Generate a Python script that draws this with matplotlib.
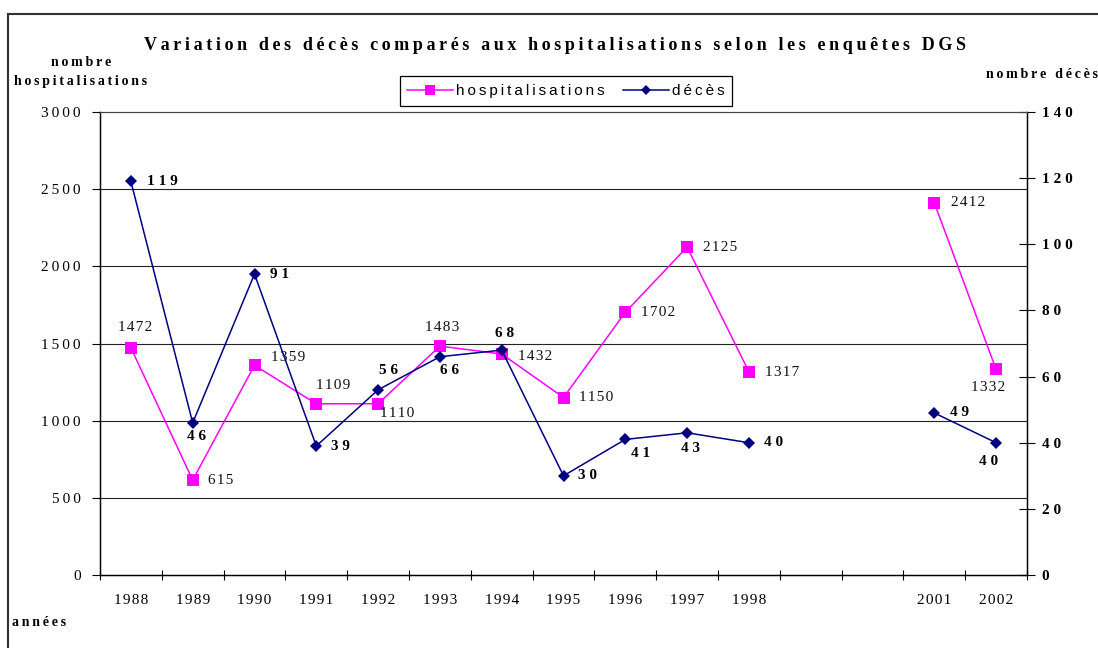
"""Variation des décès comparés aux hospitalisations (enquêtes DGS)."""

import numpy as np
import matplotlib
matplotlib.use('Agg')
import matplotlib.pyplot as plt
from matplotlib.lines import Line2D

annees = ['1988', '1989', '1990', '1991', '1992', '1993', '1994', '1995',
          '1996', '1997', '1998', '', '', '2001', '2002']
hospitalisations = [1472, 615, 1359, 1109, 1110, 1483, 1432, 1150,
                    1702, 2125, 1317, np.nan, np.nan, 2412, 1332]
deces = [119, 46, 91, 39, 56, 66, 68, 30, 41, 43, 40, np.nan, np.nan, 49, 40]

# label offsets (pixels, label centre relative to the point)
off_hosp = [(4, 20), (28, 0), (34, 8), (17, 18), (19, -10), (2, 19), (33, -3),
            (33, 0), (33, 0), (33, 0), (33, -1), None, None, (34, 0), (-8, -18)]
off_deces = [(31, 0), (4, -14), (25, 0), (24, 0), (10, 19), (10, -14), (3, 17),
             (24, 0), (15, -14), (3, -16), (25, 0), None, None, (25, 0), (-8, -19)]

SERIF = ['Liberation Serif', 'DejaVu Serif']
SANS = ['Liberation Sans', 'DejaVu Sans']
THIN = '\u2009'
HAIR = '\u200a'
MAGENTA = '#FF00FF'
NAVY = '#000080'


def spaced(text, sep=THIN):
    return sep.join(text)


W, H = 1098, 648
fig = plt.figure(figsize=(W / 100, H / 100), dpi=100)
ax = fig.add_axes([100 / W, 73 / H, 927 / W, 463 / H])
ax2 = ax.twinx()

x = np.arange(len(annees))
ax.plot(x, hospitalisations, color=MAGENTA, lw=1.1, marker='s', ms=8.5,
        markeredgewidth=0, zorder=3)
ax2.plot(x, deces, color=NAVY, lw=1.1, marker='D', ms=6,
         markeredgewidth=0, zorder=3)

for i, v in enumerate(hospitalisations):
    if off_hosp[i] is None:
        continue
    ax.annotate(spaced(str(v), HAIR), (x[i], v), xytext=off_hosp[i],
                textcoords='offset pixels', ha='center', va='center',
                fontsize=11, family=SERIF, color='#111111')
for i, v in enumerate(deces):
    if off_deces[i] is None:
        continue
    ax2.annotate(spaced(str(int(v)), ' '), (x[i], v), xytext=off_deces[i],
                 textcoords='offset pixels', ha='center', va='center',
                 fontsize=11, family=SERIF, fontweight='bold', color='black')

# axes
ax.set_xlim(-0.5, len(annees) - 0.5)
ax.set_ylim(0, 3000)
ax2.set_ylim(0, 140)

ax.set_xticks(np.arange(-0.5, len(annees), 1))
ax.set_xticklabels([])
ax.set_xticks(x, minor=True)
ax.set_xticklabels([spaced(a, HAIR) for a in annees], minor=True,
                   fontsize=11, family=SERIF)
ax.tick_params(axis='x', which='major', direction='inout', length=7, width=0.8)
ax.tick_params(axis='x', which='minor', length=0, pad=14)

ax.set_yticks(np.arange(0, 3001, 500))
ax.set_yticklabels([spaced(str(v)) for v in range(0, 3001, 500)],
                   fontsize=11, family=SERIF)
ax.tick_params(axis='y', direction='out', length=6, width=0.8, pad=8)

ax2.set_yticks(np.arange(0, 141, 20))
ax2.set_yticklabels([spaced(str(v), ' ') for v in range(0, 141, 20)],
                    fontsize=11, family=SERIF, fontweight='bold')
ax2.tick_params(axis='y', direction='inout', length=11, width=0.8, pad=5)

for y in range(500, 3000, 500):
    ax.axhline(y, color='#222222', lw=0.8, zorder=1)

for a in (ax, ax2):
    for s in a.spines.values():
        s.set_color('black')
        s.set_linewidth(0.9)
    a.spines['top'].set_color('#444444')
    a.spines['top'].set_linewidth(0.8)

# legend
handles = [Line2D([], [], color=MAGENTA, lw=1.1, marker='s', ms=7.5, markeredgewidth=0),
           Line2D([], [], color=NAVY, lw=1.1, marker='D', ms=5, markeredgewidth=0)]
leg = fig.legend(handles, [spaced('hospitalisations'), spaced('décès')],
                 loc='center', bbox_to_anchor=(566 / W, 1 - 91 / H), ncol=2,
                 frameon=True, fancybox=False, edgecolor='black', framealpha=1,
                 prop={'family': SANS, 'size': 11}, handlelength=3,
                 handletextpad=0.2, columnspacing=1.2, borderpad=0.5)
leg.get_frame().set_linewidth(0.9)

# titles
fig.text(555 / W, 1 - 45 / H,
         spaced('Variation des décès comparés aux hospitalisations selon les enquêtes DGS'),
         ha='center', va='center', fontsize=13, family=SERIF, fontweight='bold')
fig.text(81 / W, 1 - 62 / H, spaced('nombre'), ha='center', va='center',
         fontsize=10, family=SERIF, fontweight='bold')
fig.text(81 / W, 1 - 81 / H, spaced('hospitalisations'), ha='center', va='center',
         fontsize=10, family=SERIF, fontweight='bold')
fig.text(1098 / W, 1 - 74 / H, spaced('nombre décès'), ha='right', va='center',
         fontsize=10, family=SERIF, fontweight='bold')
fig.text(12 / W, 1 - 622 / H, spaced('années'), ha='left', va='center',
         fontsize=10, family=SERIF, fontweight='bold')

# outer frame (only left and top edges are inside the picture)
fig.add_artist(Line2D([8 / W, 8 / W], [0, 1 - 14 / H], color='#333333', lw=1.5))
fig.add_artist(Line2D([8 / W, 1], [1 - 14 / H, 1 - 14 / H], color='#333333', lw=1.5))

fig.savefig('out.png', dpi=100)
